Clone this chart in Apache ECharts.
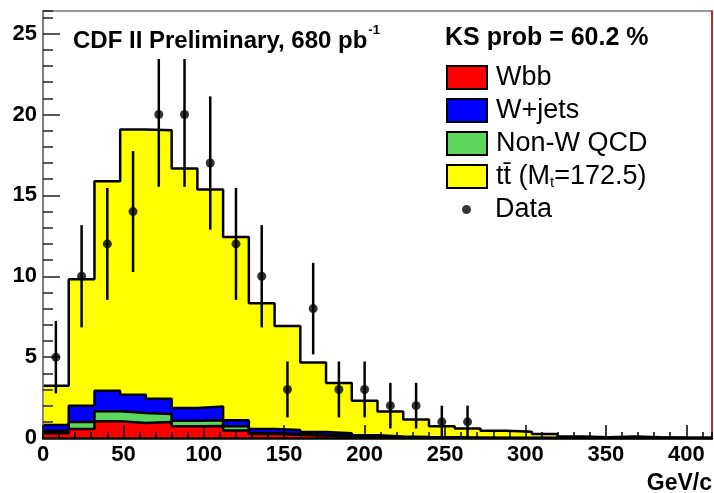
<!DOCTYPE html>
<html>
<head>
<meta charset="utf-8">
<script src="https://cdn.jsdelivr.net/npm/echarts@6/dist/echarts.min.js"></script>
<style>
  html, body { margin: 0; padding: 0; background: #fff; }
  #chart { width: 714px; height: 493px; }
</style>
</head>
<body>
<div id="chart"></div>
<script>
// histogram bin edges, GeV/c (16 GeV bins)
var binEdges = [0, 16, 32, 48, 64, 80, 96, 112, 128, 144, 160, 176, 192, 208, 224, 240, 256, 272, 288, 304, 320, 336, 352, 368, 384, 400, 416];

// expected events per bin, per process
var wbb   = [0.30, 0.55, 1.03, 0.92, 0.99, 0.72, 0.74, 0.47, 0.25, 0.20, 0.15, 0.10, 0.06, 0.04, 0.02, 0.01, 0, 0, 0, 0, 0, 0, 0, 0, 0, 0];
var nonW  = [0.15, 0.44, 0.62, 0.62, 0.49, 0.35, 0.35, 0.25, 0.05, 0.05, 0.03, 0.02, 0.01, 0, 0, 0, 0, 0, 0, 0, 0, 0, 0, 0, 0, 0];
var wjets = [0.35, 1.01, 1.27, 1.13, 0.95, 0.78, 0.86, 0.37, 0.25, 0.25, 0.19, 0.18, 0.10, 0.06, 0.04, 0.03, 0.02, 0, 0, 0, 0, 0, 0, 0, 0, 0];
var ttbar = [2.43, 7.81, 12.96, 16.40, 16.60, 14.82, 13.42, 11.34, 7.78, 6.43, 4.30, 3.10, 2.13, 1.54, 1.09, 0.68, 0.56, 0.45, 0.38, 0.25, 0.10, 0.05, 0.10, 0.05, 0.02, 0];

// observed data (bin centres), with error bars
var dataX   = [8, 24, 40, 56, 72, 88, 104, 120, 136, 152, 168, 184, 200, 216, 232, 248, 264];
var dataY   = [5, 10, 12, 14, 20, 20, 17, 12, 10, 3, 8, 3, 3, 2, 2, 1, 1];
var dataErr = [2.24, 3.16, 3.46, 3.74, 4.47, 4.47, 4.12, 3.46, 3.16, 1.73, 2.83, 1.73, 1.73, 1.41, 1.41, 1.0, 1.0];

var TT_NAME = 'tt\u0304 (Mt=172.5)';
var FONT = '"Liberation Sans", Arial, Helvetica, sans-serif';

// running sums so each layer is drawn from zero (like a THStack)
function addUp(a, b) { return a.map(function (v, i) { return v + b[i]; }); }
var cumRed = wbb;
var cumGreen = addUp(cumRed, nonW);
var cumBlue = addUp(cumGreen, wjets);
var cumYellow = addUp(cumBlue, ttbar);

function stepData(vals) {
  return binEdges.map(function (x, i) { return [x, vals[Math.min(i, vals.length - 1)]]; });
}

function histSeries(name, vals, color) {
  return {
    name: name,
    type: 'line',
    step: 'end',
    symbol: 'none',
    data: stepData(vals),
    lineStyle: { color: '#000', width: 2.5 },
    itemStyle: { color: color },
    areaStyle: { color: color, opacity: 1 }
  };
}

var chart = echarts.init(document.getElementById('chart'));
chart.setOption({
  animation: false,
  grid: { left: 43, right: 2, top: 11, bottom: 55, show: true, borderColor: '#777', borderWidth: 1.5 },
  xAxis: [
    {
      type: 'value', min: 0, max: 416, interval: 50, z: 5,
      axisLine: { show: true, onZero: false, lineStyle: { color: '#000', width: 2.5 } },
      axisTick: { inside: true, length: 13, lineStyle: { color: '#000', width: 1.5 } },
      axisLabel: { margin: 6, fontSize: 22, fontWeight: 'bold', color: '#000', fontFamily: FONT, showMaxLabel: false },
      splitLine: { show: false }
    },
    {
      type: 'value', min: 0, max: 416, interval: 10, position: 'bottom', z: 5,
      axisLine: { show: false },
      axisTick: { inside: true, length: 6, lineStyle: { color: '#000', width: 1.5 } },
      axisLabel: { show: false },
      splitLine: { show: false }
    }
  ],
  yAxis: [
    {
      type: 'value', min: 0, max: 26.4, interval: 5, z: 5,
      axisLine: { show: true, onZero: false, lineStyle: { color: '#777', width: 1.5 } },
      axisTick: { inside: true, length: 17, lineStyle: { color: '#222', width: 1.5 } },
      axisLabel: { margin: 6, fontSize: 22, fontWeight: 'bold', color: '#000', fontFamily: FONT, showMaxLabel: false },
      splitLine: { show: false }
    },
    {
      type: 'value', min: 0, max: 26.4, interval: 1, position: 'left', z: 5,
      axisLine: { show: false },
      axisTick: { inside: true, length: 10, lineStyle: { color: '#222', width: 1.5 } },
      axisLabel: { show: false },
      splitLine: { show: false }
    },
    {
      type: 'value', min: 0, max: 26.4, position: 'right', z: 5,
      axisLine: { show: true, onZero: false, lineStyle: { color: '#e00000', width: 1.5 } },
      axisTick: { show: false },
      axisLabel: { show: false },
      splitLine: { show: false }
    }
  ],
  legend: [
    {
      orient: 'vertical', left: 446, top: 64, padding: 0,
      itemWidth: 40, itemHeight: 23, itemGap: 6, icon: 'rect', selectedMode: false,
      data: [
        { name: 'Wbb', itemStyle: { color: '#ff0000', borderColor: '#000', borderWidth: 2 } },
        { name: 'W+jets', itemStyle: { color: '#0000ff', borderColor: '#000', borderWidth: 2 } },
        { name: 'Non-W QCD', itemStyle: { color: '#5cd65c', borderColor: '#000', borderWidth: 2 } },
        { name: TT_NAME, itemStyle: { color: '#ffff00', borderColor: '#000', borderWidth: 2 } }
      ],
      formatter: function (name) {
        if (name === TT_NAME) return '{a|tt\u0304 (M}{s|t}{a|=172.5)}';
        return name;
      },
      textStyle: {
        fontFamily: FONT, fontSize: 27, color: '#000', lineHeight: 23, padding: [0, 0, 0, 4],
        rich: {
          a: { fontFamily: FONT, fontSize: 27, color: '#000', lineHeight: 23 },
          s: { fontFamily: FONT, fontSize: 15, color: '#000', lineHeight: 15, padding: [12, 0, 0, 0] }
        }
      }
    },
    {
      orient: 'vertical', left: 462, top: 196, padding: 0,
      itemWidth: 9, itemHeight: 9, icon: 'circle', selectedMode: false,
      data: [{ name: 'Data', itemStyle: { color: '#000' } }],
      textStyle: { fontFamily: FONT, fontSize: 27, color: '#000', lineHeight: 25, padding: [0, 0, 0, 19] }
    }
  ],
  graphic: [
    { type: 'rect', shape: { x: 60, y: 14, width: 340, height: 45 }, style: { fill: '#fff' }, z: 50 },
    {
      type: 'text', x: 73, y: 41, z: 51,
      style: {
        text: '{m|CDF II Preliminary, 680 pb}{s|-1}',
        verticalAlign: 'middle',
        rich: {
          m: { fontFamily: FONT, fontWeight: 'bold', fontSize: 24, fill: '#000', lineHeight: 24 },
          s: { fontFamily: FONT, fontWeight: 'bold', fontSize: 13, fill: '#000', lineHeight: 13, padding: [0, 0, 22, 1] }
        }
      }
    },
    {
      type: 'text', x: 445, y: 38, z: 51,
      style: { text: 'KS prob = 60.2 %', font: 'bold 25px ' + FONT, fill: '#000', verticalAlign: 'middle' }
    },
    {
      type: 'text', x: 712, y: 484, z: 51,
      style: { text: 'GeV/c', font: 'bold 23px ' + FONT, fill: '#000', align: 'right', verticalAlign: 'middle' }
    }
  ],
  series: [
    histSeries(TT_NAME, cumYellow, '#ffff00'),
    histSeries('W+jets', cumBlue, '#0000ff'),
    histSeries('Non-W QCD', cumGreen, '#5cd65c'),
    histSeries('Wbb', cumRed, '#ff0000'),
    {
      name: 'errors',
      type: 'custom',
      z: 6,
      data: dataX.map(function (x, i) { return [x, dataY[i], dataErr[i]]; }),
      encode: { x: 0, y: 1 },
      renderItem: function (params, api) {
        var x = api.value(0), y = api.value(1), e = api.value(2);
        var top = api.coord([x, y + e]);
        var bot = api.coord([x, y - e]);
        return {
          type: 'line',
          shape: { x1: top[0], y1: top[1], x2: bot[0], y2: bot[1] },
          style: { stroke: '#000', lineWidth: 2.5 }
        };
      }
    },
    {
      name: 'Data',
      type: 'scatter',
      z: 7,
      symbol: 'circle',
      symbolSize: 9,
      itemStyle: { color: '#000' },
      data: dataX.map(function (x, i) { return [x, dataY[i]]; })
    }
  ]
});
</script>
</body>
</html>
